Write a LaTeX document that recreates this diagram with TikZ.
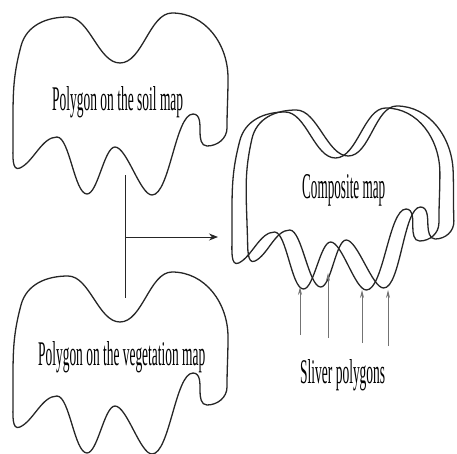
\documentclass[tikz,border=0pt]{standalone}
\usepackage{fontspec}
\setmainfont{Liberation Serif}
\usetikzlibrary{arrows.meta}
\tikzset{
  outline/.style={line width=1.3pt, black!85},
  conn/.style={line width=0.9pt, black!85},
  sliverarrow/.style={line width=0.8pt, black!55, -{Stealth[length=8pt,width=4pt]}},
  lbl/.style={inner sep=0pt, anchor=base west, black},
  wave/.style={out=180,in=0,looseness=0.5}
}
\newcommand{\blob}{%
  \draw[outline] (13,120)
    to[out=90,in=-105] (21,46)
    to[out=75,in=180] (68,17)
    to[out=0,in=180,looseness=0.8] (120,63)
    to[out=0,in=180,looseness=0.8] (172,13)
    to[out=0,in=90] (228,78)
    to[out=-90,in=90] (227,128)
    to[out=-90,in=0] (207,146)
    to[out=180,in=-90] (200,132)
    to[out=90,in=0] (193,114)
    to[wave] (152,195)
    to[wave] (115,147)
    to[wave] (87,194)
    to[wave] (57,137)
    to[out=180,in=25,looseness=0.8] (20,168)
    to[out=205,in=-90] (13,145)
    -- cycle;}
\begin{document}
\begin{tikzpicture}[x=1pt,y=-1pt]
\useasboundingbox (0,0) rectangle (457,453);
% soil polygon
\begin{scope}\blob\end{scope}
% vegetation polygon
\begin{scope}[shift={(0,259)}]\blob\end{scope}
% composite map (two overlaid copies)
\begin{scope}[shift={(219.4,95)}, xscale=0.967]\blob\end{scope}
\begin{scope}[shift={(230,93)}, xslant=-0.034, xscale=0.967]\blob\end{scope}
% labels
\node[lbl] (soil) at (52,110) {\resizebox{131pt}{24pt}{Polygon on the soil map}};
\node[lbl] (veg) at (38,365) {\resizebox{167pt}{24pt}{Polygon on the vegetation map}};
\node[lbl] (comp) at (302,198) {\resizebox{83pt}{24pt}{Composite map}};
\node[lbl] (sliver) at (300,383) {\resizebox{85pt}{24pt}{Sliver polygons}};
% connector
\coordinate (vtop) at (125,175);
\coordinate (vbot) at (125,298);
\coordinate (vmid) at (125,237);
\coordinate (tip) at (218,237);
\draw[conn] (vtop) -- (vbot);
\draw[conn, -{Stealth[length=9pt,width=7pt]}] (vmid) -- (tip);
% sliver arrows
\coordinate (s1a) at (300,335); \coordinate (s1b) at (300,287);
\coordinate (s2a) at (328,338); \coordinate (s2b) at (328,273);
\coordinate (s3a) at (362,343); \coordinate (s3b) at (362,290);
\coordinate (s4a) at (388,346); \coordinate (s4b) at (388,290);
\draw[sliverarrow] (s1a) -- (s1b);
\draw[sliverarrow] (s2a) -- (s2b);
\draw[sliverarrow] (s3a) -- (s3b);
\draw[sliverarrow] (s4a) -- (s4b);
\end{tikzpicture}
\end{document}
